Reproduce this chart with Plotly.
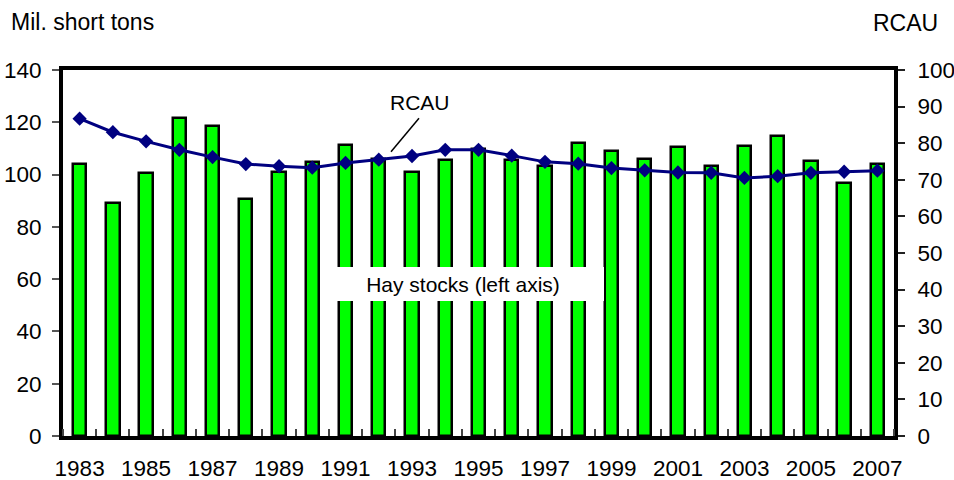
import plotly.graph_objects as go

years = list(range(1983, 2008))
hay_stocks = [104.2, 89.3, 100.6, 121.8, 118.6, 90.5, 100.9, 105.0, 111.3, 106.0,
              101.0, 105.4, 109.6, 105.4, 103.2, 112.1, 108.9, 105.8, 110.4, 103.1,
              111.1, 114.7, 105.2, 96.6, 104.2]
rcau = [86.7, 83.0, 80.5, 78.2, 76.2, 74.3, 73.7, 73.3, 74.6, 75.5,
        76.5, 78.2, 78.2, 76.6, 74.9, 74.4, 73.2, 72.6, 72.0, 71.9,
        70.5, 71.0, 71.9, 72.2, 72.5]
label_years = [y for y in years if y % 2 == 1]
left_ticks = list(range(0, 141, 20))
right_ticks = list(range(0, 101, 10))

FONT = "Liberation Sans, Arial, sans-serif"
W_FIG, H_FIG = 954, 480
PL, PR, PT, PB = 63, 894, 70, 436          # plot area in page pixels
L, R, T, B = PL, W_FIG - PR, PT, H_FIG - PB
PW, PH = PR - PL, PB - PT

def px(x):
    return (x - PL) / PW

def py(y):
    return (PB - y) / PH

fig = go.Figure()
fig.add_trace(go.Bar(
    x=years, y=hay_stocks, width=0.4,
    marker=dict(color="#00FF00", line=dict(color="black", width=2.5)),
    yaxis="y", showlegend=False,
))
fig.add_trace(go.Scatter(
    x=years, y=rcau, mode="lines+markers", yaxis="y2",
    line=dict(color="#000080", width=3),
    marker=dict(symbol="diamond", size=11, color="#000080"),
    showlegend=False,
))

boundaries = [y - 0.5 for y in years] + [years[-1] + 0.5]

fig.update_layout(
    width=W_FIG, height=H_FIG,
    margin=dict(l=L, r=R, t=T, b=B, autoexpand=False),
    paper_bgcolor="white", plot_bgcolor="white",
    font=dict(family=FONT, size=22, color="black"),
    bargap=0,
    xaxis=dict(
        range=[years[0] - 0.5, years[-1] + 0.5], automargin=False,
        tickmode="array", tickvals=label_years, ticktext=[str(y) for y in label_years],
        ticks="", showgrid=False, zeroline=False,
        showline=True, linewidth=4, linecolor="black", mirror=True,
        minor=dict(ticks="inside", tickmode="array", tickvals=boundaries,
                   ticklen=7, tickwidth=1.5, tickcolor="#444", showgrid=False),
        tickfont=dict(size=22.5), ticklabelstandoff=9,
    ),
    yaxis=dict(
        range=[0, 140], tickmode="array", tickvals=left_ticks, automargin=False,
        ticks="outside", ticklen=7, tickwidth=1.5, tickcolor="#555",
        showgrid=False, zeroline=False,
        showline=True, linewidth=4, linecolor="black", mirror=True,
        tickfont=dict(size=22.5), ticklabelstandoff=6,
    ),
    yaxis2=dict(
        range=[0, 100], tickmode="array", tickvals=right_ticks, automargin=False,
        overlaying="y", side="right",
        ticks="outside", ticklen=7, tickwidth=1.5, tickcolor="#222",
        showgrid=False, zeroline=False,
        showline=True, linewidth=4, linecolor="black",
        tickfont=dict(size=22.5), ticklabelstandoff=8,
    ),
    annotations=[
        dict(text="Mil. short tons", xref="paper", yref="paper",
             x=px(9), y=py(21.7), xanchor="left", yanchor="middle",
             showarrow=False, font=dict(size=23)),
        dict(text="RCAU", xref="paper", yref="paper",
             x=px(940), y=py(23), xanchor="right", yanchor="middle",
             showarrow=False, font=dict(size=23)),
        dict(text="RCAU", xref="paper", yref="paper",
             x=px(420), y=py(102), xanchor="center", yanchor="middle",
             showarrow=False, font=dict(size=21)),
        dict(text="Hay stocks (left axis)", xref="paper", yref="paper",
             x=px(463), y=py(284), xanchor="center", yanchor="middle",
             showarrow=False, font=dict(size=21),
             bgcolor="white", width=282, height=34, borderpad=0, borderwidth=0),
    ],
    shapes=[
        dict(type="line", xref="paper", yref="paper",
             x0=px(419), y0=py(118.3), x1=px(391), y1=py(151.7),
             line=dict(color="black", width=1.5)),
    ],
)

fig.write_html("out.html", config={"displayModeBar": False},
               post_script="document.body.style.margin='0px';")
